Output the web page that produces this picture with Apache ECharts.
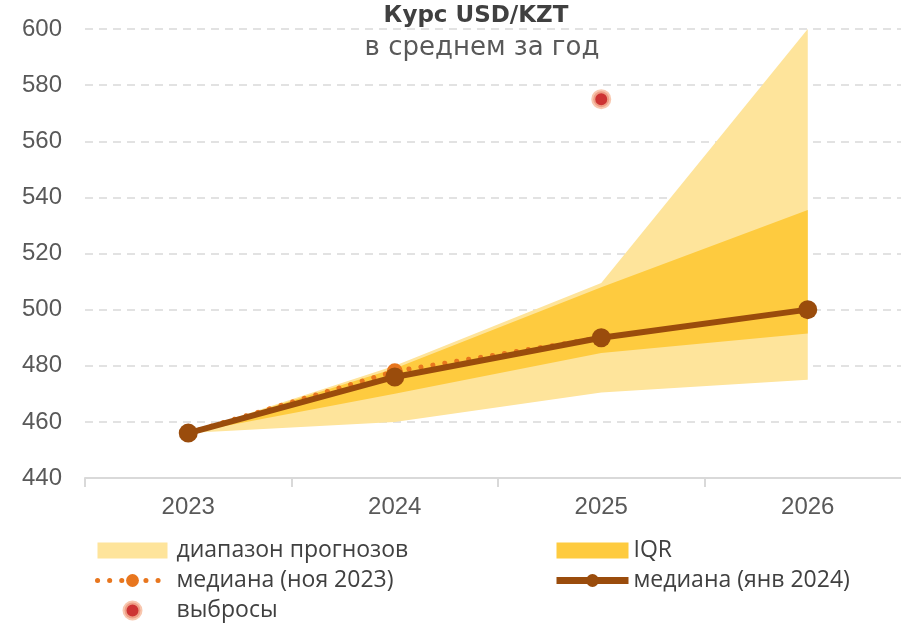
<!DOCTYPE html>
<html><head><meta charset="utf-8">
<script src="https://cdn.jsdelivr.net/npm/echarts@6/dist/echarts.min.js"></script>
<style>html,body{margin:0;padding:0;background:#fff;overflow:hidden}#c{width:916px;height:636px}</style>
</head><body><div id="c"></div>
<script>
const years = ['2023', '2024', '2025', '2026'];
const rangeLow = [456, 460, 470.5, 475];
const rangeHigh = [456, 480, 509.5, 600];
const iqrLow = [456, 470, 484.5, 491.5];
const iqrHigh = [456, 479, 508, 535.5];
const medianNov2023 = [456, 478, 490, null];
const medianJan2024 = [456, 476, 490, 500];
const outlierYears = ['2025'];
const outlierValues = [575];
const yTicks = [440, 460, 480, 500, 520, 540, 560, 580, 600];

const diff = (a, b) => a.map((v, i) => +(v - b[i]).toFixed(2));
const LIGHT = '#FEE49B', IQRC = '#FECB3F', BROWN = '#9A4C0C', ORANGE = '#E8761E';
const RED = '#C00000', HALO = '#F6B99B';
const FONT = 'Liberation Sans';
const LFONT = 'Open Sans';
const DOTS = [0.1, 12];

const chart = echarts.init(document.getElementById('c'), null, {renderer: 'canvas'});
chart.setOption({
  animation: false,
  backgroundColor: '#fff',
  graphic: [
    {type: 'text', x: 476, y: 16, style: {text: 'Курс USD/KZT', font: 'bold 23px "DejaVu Sans"', fill: '#404040', textAlign: 'center', textVerticalAlign: 'middle'}},
    {type: 'text', x: 482, y: 48, style: {text: 'в среднем за год', font: '26px "DejaVu Sans"', fill: '#595959', textAlign: 'center', textVerticalAlign: 'middle'}}
  ],
  grid: {left: 85, right: 5, top: 29, bottom: 158, containLabel: false},
  xAxis: {
    type: 'category', data: years, boundaryGap: true,
    axisLine: {lineStyle: {color: '#D9D9D9', width: 2}},
    axisTick: {show: true, length: 9, lineStyle: {color: '#D9D9D9', width: 2}},
    axisLabel: {color: '#595959', fontSize: 24, fontFamily: FONT, margin: 17}
  },
  yAxis: {
    type: 'value', min: yTicks[0], max: yTicks[yTicks.length - 1], interval: 20,
    axisLine: {show: false}, axisTick: {show: false},
    axisLabel: {color: '#595959', fontSize: 24, fontFamily: FONT, margin: 23},
    splitLine: {lineStyle: {color: '#D9D9D9', type: [8, 6], width: 1.5}}
  },
  legend: [
    {
      orient: 'vertical', left: 90, top: 534, itemWidth: 70, itemHeight: 16, itemGap: 7,
      textStyle: {color: '#404040', fontSize: 23, fontFamily: LFONT, padding: [0, 0, 0, 4]},
      data: [
        {name: 'диапазон прогнозов', icon: 'rect'},
        {name: 'медиана (ноя 2023)', lineStyle: {width: 5, type: DOTS, cap: 'round', color: ORANGE}},
        {name: 'выбросы', itemStyle: {color: RED, borderColor: HALO, borderWidth: 4}}
      ]
    },
    {
      orient: 'vertical', left: 548, top: 534, itemWidth: 72, itemHeight: 16, itemGap: 7,
      textStyle: {color: '#404040', fontSize: 23, fontFamily: LFONT, padding: [0, 0, 0, 0]},
      data: [
        {name: 'IQR', icon: 'rect'},
        {name: 'медиана (янв 2024)', lineStyle: {width: 7, color: BROWN}}
      ]
    }
  ],
  series: [
    {name: 'rb', type: 'line', stack: 'range', data: rangeLow, symbol: 'none', lineStyle: {width: 0, opacity: 0}, silent: true, z: 1},
    {name: 'диапазон прогнозов', type: 'line', stack: 'range', data: diff(rangeHigh, rangeLow), symbol: 'none',
      color: LIGHT, lineStyle: {width: 0, opacity: 0}, areaStyle: {color: LIGHT, opacity: 1}, z: 1},
    {name: 'ib', type: 'line', stack: 'iqr', data: iqrLow, symbol: 'none', lineStyle: {width: 0, opacity: 0}, silent: true, z: 2},
    {name: 'IQR', type: 'line', stack: 'iqr', data: diff(iqrHigh, iqrLow), symbol: 'none',
      color: IQRC, lineStyle: {width: 0, opacity: 0}, areaStyle: {color: IQRC, opacity: 1}, z: 2},
    {name: 'медиана (ноя 2023)', type: 'line', data: medianNov2023, symbol: 'circle', symbolSize: 16,
      color: ORANGE, itemStyle: {color: ORANGE},
      lineStyle: {color: ORANGE, width: 5, type: DOTS, cap: 'round'}, z: 3},
    {name: 'медиана (янв 2024)', type: 'line', data: medianJan2024, symbol: 'circle', symbolSize: 19,
      color: BROWN, itemStyle: {color: BROWN}, lineStyle: {color: BROWN, width: 6}, z: 4},
    {name: 'выбросы', type: 'scatter', data: outlierYears.map((y, i) => [y, outlierValues[i]]),
      symbolSize: 16, color: RED,
      itemStyle: {color: RED, borderColor: HALO, borderWidth: 4}, z: 5}
  ]
});
</script></body></html>
